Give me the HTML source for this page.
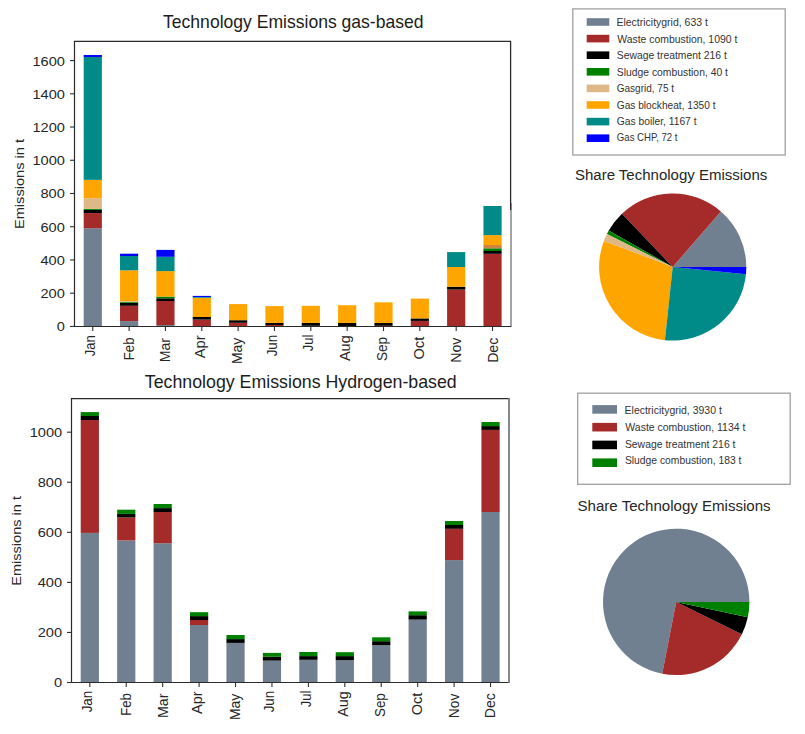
<!DOCTYPE html>
<html><head><meta charset="utf-8"><style>
html,body{margin:0;padding:0;background:#fff;width:805px;height:734px;overflow:hidden}
text{font-family:"Liberation Sans", sans-serif}
</style></head><body>
<svg width="805" height="734" viewBox="0 0 805 734" style="display:block">
<rect width="805" height="734" fill="#ffffff"/>
<rect x="83.685" y="228.2" width="18.171" height="98.2" fill="#708090"/>
<rect x="83.685" y="213.1" width="18.171" height="15.1" fill="#a52a2a"/>
<rect x="83.685" y="209.9" width="18.171" height="3.2" fill="#000000"/>
<rect x="83.685" y="208.9" width="18.171" height="1" fill="#008000"/>
<rect x="83.685" y="198.2" width="18.171" height="10.7" fill="#deb887"/>
<rect x="83.685" y="179.85" width="18.171" height="18.35" fill="#ffa500"/>
<rect x="83.685" y="57" width="18.171" height="122.85" fill="#008a88"/>
<rect x="83.685" y="55" width="18.171" height="2" fill="#0000ff"/>
<rect x="120.027" y="321.1" width="18.171" height="5.3" fill="#708090"/>
<rect x="120.027" y="305.8" width="18.171" height="15.3" fill="#a52a2a"/>
<rect x="120.027" y="302.7" width="18.171" height="3.1" fill="#000000"/>
<rect x="120.027" y="301.8" width="18.171" height="0.9" fill="#008000"/>
<rect x="120.027" y="301.2" width="18.171" height="0.6" fill="#deb887"/>
<rect x="120.027" y="270.3" width="18.171" height="30.9" fill="#ffa500"/>
<rect x="120.027" y="256" width="18.171" height="14.3" fill="#008a88"/>
<rect x="120.027" y="253.7" width="18.171" height="2.3" fill="#0000ff"/>
<rect x="156.369" y="325" width="18.171" height="1.4" fill="#708090"/>
<rect x="156.369" y="301" width="18.171" height="24" fill="#a52a2a"/>
<rect x="156.369" y="298.3" width="18.171" height="2.7" fill="#000000"/>
<rect x="156.369" y="296.6" width="18.171" height="1.7" fill="#008000"/>
<rect x="156.369" y="271.1" width="18.171" height="25.5" fill="#ffa500"/>
<rect x="156.369" y="256.8" width="18.171" height="14.3" fill="#008a88"/>
<rect x="156.369" y="249.9" width="18.171" height="6.9" fill="#0000ff"/>
<rect x="192.71" y="319.6" width="18.171" height="6.8" fill="#a52a2a"/>
<rect x="192.71" y="317" width="18.171" height="2.6" fill="#000000"/>
<rect x="192.71" y="297.8" width="18.171" height="19.2" fill="#ffa500"/>
<rect x="192.71" y="297" width="18.171" height="0.8" fill="#008a88"/>
<rect x="192.71" y="295.9" width="18.171" height="1.1" fill="#0000ff"/>
<rect x="229.052" y="322.8" width="18.171" height="3.6" fill="#a52a2a"/>
<rect x="229.052" y="320.2" width="18.171" height="2.6" fill="#000000"/>
<rect x="229.052" y="304.1" width="18.171" height="16.1" fill="#ffa500"/>
<rect x="265.394" y="325" width="18.171" height="1.4" fill="#a52a2a"/>
<rect x="265.394" y="322.9" width="18.171" height="2.1" fill="#000000"/>
<rect x="265.394" y="306.1" width="18.171" height="16.8" fill="#ffa500"/>
<rect x="301.735" y="325.8" width="18.171" height="0.6" fill="#a52a2a"/>
<rect x="301.735" y="322.9" width="18.171" height="2.9" fill="#000000"/>
<rect x="301.735" y="305.8" width="18.171" height="17.1" fill="#ffa500"/>
<rect x="338.077" y="323" width="18.171" height="3.4" fill="#000000"/>
<rect x="338.077" y="305.2" width="18.171" height="17.8" fill="#ffa500"/>
<rect x="374.419" y="325.8" width="18.171" height="0.6" fill="#a52a2a"/>
<rect x="374.419" y="323" width="18.171" height="2.8" fill="#000000"/>
<rect x="374.419" y="302.3" width="18.171" height="20.7" fill="#ffa500"/>
<rect x="410.76" y="320.9" width="18.171" height="5.5" fill="#a52a2a"/>
<rect x="410.76" y="318.4" width="18.171" height="2.5" fill="#000000"/>
<rect x="410.76" y="298.6" width="18.171" height="19.8" fill="#ffa500"/>
<rect x="447.102" y="289.6" width="18.171" height="36.8" fill="#a52a2a"/>
<rect x="447.102" y="286.7" width="18.171" height="2.9" fill="#000000"/>
<rect x="447.102" y="267" width="18.171" height="19.7" fill="#ffa500"/>
<rect x="447.102" y="252.1" width="18.171" height="14.9" fill="#008a88"/>
<rect x="483.444" y="253.8" width="18.171" height="72.6" fill="#a52a2a"/>
<rect x="483.444" y="251" width="18.171" height="2.8" fill="#000000"/>
<rect x="483.444" y="248.3" width="18.171" height="2.7" fill="#008000"/>
<rect x="483.444" y="245" width="18.171" height="3.3" fill="#cd853f"/>
<rect x="483.444" y="235.1" width="18.171" height="9.9" fill="#ffa500"/>
<rect x="483.444" y="206" width="18.171" height="29.1" fill="#008a88"/>
<line x1="74.5" y1="40.9" x2="74.5" y2="327" stroke="#2a2a2a" stroke-width="1.2"/>
<line x1="73.9" y1="41.4" x2="511" y2="41.4" stroke="#2a2a2a" stroke-width="1.2"/>
<line x1="73.9" y1="326.5" x2="511.5" y2="326.5" stroke="#2a2a2a" stroke-width="1.2"/>
<line x1="511" y1="203" x2="511" y2="326" stroke="#9a9a9a" stroke-width="1.8"/>
<line x1="510.6" y1="40.9" x2="510.6" y2="209.9" stroke="#2a2a2a" stroke-width="1.3"/>
<line x1="70" y1="326.4" x2="74.6" y2="326.4" stroke="#303030" stroke-width="1.1"/>
<line x1="70" y1="293.172" x2="74.6" y2="293.172" stroke="#303030" stroke-width="1.1"/>
<line x1="70" y1="259.944" x2="74.6" y2="259.944" stroke="#303030" stroke-width="1.1"/>
<line x1="70" y1="226.716" x2="74.6" y2="226.716" stroke="#303030" stroke-width="1.1"/>
<line x1="70" y1="193.488" x2="74.6" y2="193.488" stroke="#303030" stroke-width="1.1"/>
<line x1="70" y1="160.26" x2="74.6" y2="160.26" stroke="#303030" stroke-width="1.1"/>
<line x1="70" y1="127.032" x2="74.6" y2="127.032" stroke="#303030" stroke-width="1.1"/>
<line x1="70" y1="93.804" x2="74.6" y2="93.804" stroke="#303030" stroke-width="1.1"/>
<line x1="70" y1="60.576" x2="74.6" y2="60.576" stroke="#303030" stroke-width="1.1"/>
<line x1="92.771" y1="326.4" x2="92.771" y2="331" stroke="#303030" stroke-width="1.1"/>
<line x1="129.113" y1="326.4" x2="129.113" y2="331" stroke="#303030" stroke-width="1.1"/>
<line x1="165.454" y1="326.4" x2="165.454" y2="331" stroke="#303030" stroke-width="1.1"/>
<line x1="201.796" y1="326.4" x2="201.796" y2="331" stroke="#303030" stroke-width="1.1"/>
<line x1="238.138" y1="326.4" x2="238.138" y2="331" stroke="#303030" stroke-width="1.1"/>
<line x1="274.479" y1="326.4" x2="274.479" y2="331" stroke="#303030" stroke-width="1.1"/>
<line x1="310.821" y1="326.4" x2="310.821" y2="331" stroke="#303030" stroke-width="1.1"/>
<line x1="347.163" y1="326.4" x2="347.163" y2="331" stroke="#303030" stroke-width="1.1"/>
<line x1="383.504" y1="326.4" x2="383.504" y2="331" stroke="#303030" stroke-width="1.1"/>
<line x1="419.846" y1="326.4" x2="419.846" y2="331" stroke="#303030" stroke-width="1.1"/>
<line x1="456.188" y1="326.4" x2="456.188" y2="331" stroke="#303030" stroke-width="1.1"/>
<line x1="492.529" y1="326.4" x2="492.529" y2="331" stroke="#303030" stroke-width="1.1"/>
<rect x="80.707" y="532.9" width="18.215" height="149.6" fill="#708090"/>
<rect x="80.707" y="420" width="18.215" height="112.9" fill="#a52a2a"/>
<rect x="80.707" y="416" width="18.215" height="4" fill="#000000"/>
<rect x="80.707" y="412.1" width="18.215" height="3.9" fill="#008000"/>
<rect x="117.136" y="540.4" width="18.215" height="142.1" fill="#708090"/>
<rect x="117.136" y="517.4" width="18.215" height="23" fill="#a52a2a"/>
<rect x="117.136" y="513.9" width="18.215" height="3.5" fill="#000000"/>
<rect x="117.136" y="509.7" width="18.215" height="4.2" fill="#008000"/>
<rect x="153.566" y="543.2" width="18.215" height="139.3" fill="#708090"/>
<rect x="153.566" y="512" width="18.215" height="31.2" fill="#a52a2a"/>
<rect x="153.566" y="508.1" width="18.215" height="3.9" fill="#000000"/>
<rect x="153.566" y="504" width="18.215" height="4.1" fill="#008000"/>
<rect x="189.995" y="625" width="18.215" height="57.5" fill="#708090"/>
<rect x="189.995" y="620" width="18.215" height="5" fill="#a52a2a"/>
<rect x="189.995" y="616.1" width="18.215" height="3.9" fill="#000000"/>
<rect x="189.995" y="612.2" width="18.215" height="3.9" fill="#008000"/>
<rect x="226.424" y="642.9" width="18.215" height="39.6" fill="#708090"/>
<rect x="226.424" y="639.1" width="18.215" height="3.8" fill="#000000"/>
<rect x="226.424" y="635" width="18.215" height="4.1" fill="#008000"/>
<rect x="262.853" y="660.6" width="18.215" height="21.9" fill="#708090"/>
<rect x="262.853" y="656.8" width="18.215" height="3.8" fill="#000000"/>
<rect x="262.853" y="652.9" width="18.215" height="3.9" fill="#008000"/>
<rect x="299.282" y="659.8" width="18.215" height="22.7" fill="#708090"/>
<rect x="299.282" y="656.1" width="18.215" height="3.7" fill="#000000"/>
<rect x="299.282" y="652" width="18.215" height="4.1" fill="#008000"/>
<rect x="335.711" y="660.2" width="18.215" height="22.3" fill="#708090"/>
<rect x="335.711" y="656.1" width="18.215" height="4.1" fill="#000000"/>
<rect x="335.711" y="652.2" width="18.215" height="3.9" fill="#008000"/>
<rect x="372.141" y="645.1" width="18.215" height="37.4" fill="#708090"/>
<rect x="372.141" y="641.2" width="18.215" height="3.9" fill="#000000"/>
<rect x="372.141" y="637.3" width="18.215" height="3.9" fill="#008000"/>
<rect x="408.57" y="619.6" width="18.215" height="62.9" fill="#708090"/>
<rect x="408.57" y="615.2" width="18.215" height="4.4" fill="#000000"/>
<rect x="408.57" y="611.4" width="18.215" height="3.8" fill="#008000"/>
<rect x="444.999" y="560.1" width="18.215" height="122.4" fill="#708090"/>
<rect x="444.999" y="528.8" width="18.215" height="31.3" fill="#a52a2a"/>
<rect x="444.999" y="525" width="18.215" height="3.8" fill="#000000"/>
<rect x="444.999" y="521" width="18.215" height="4" fill="#008000"/>
<rect x="481.428" y="512" width="18.215" height="170.5" fill="#708090"/>
<rect x="481.428" y="429.9" width="18.215" height="82.1" fill="#a52a2a"/>
<rect x="481.428" y="426.1" width="18.215" height="3.8" fill="#000000"/>
<rect x="481.428" y="422" width="18.215" height="4.1" fill="#008000"/>
<line x1="71.5" y1="398" x2="71.5" y2="683" stroke="#2a2a2a" stroke-width="1.2"/>
<line x1="70.9" y1="398.6" x2="509.5" y2="398.6" stroke="#2a2a2a" stroke-width="1.2"/>
<line x1="70.9" y1="682.5" x2="509.4" y2="682.5" stroke="#2a2a2a" stroke-width="1.2"/>
<line x1="509" y1="398" x2="509" y2="683" stroke="#7a7a7a" stroke-width="1.8"/>
<line x1="67" y1="682.5" x2="71.6" y2="682.5" stroke="#303030" stroke-width="1.1"/>
<line x1="67" y1="632.44" x2="71.6" y2="632.44" stroke="#303030" stroke-width="1.1"/>
<line x1="67" y1="582.38" x2="71.6" y2="582.38" stroke="#303030" stroke-width="1.1"/>
<line x1="67" y1="532.32" x2="71.6" y2="532.32" stroke="#303030" stroke-width="1.1"/>
<line x1="67" y1="482.26" x2="71.6" y2="482.26" stroke="#303030" stroke-width="1.1"/>
<line x1="67" y1="432.2" x2="71.6" y2="432.2" stroke="#303030" stroke-width="1.1"/>
<line x1="89.815" y1="682.5" x2="89.815" y2="687.1" stroke="#303030" stroke-width="1.1"/>
<line x1="126.244" y1="682.5" x2="126.244" y2="687.1" stroke="#303030" stroke-width="1.1"/>
<line x1="162.673" y1="682.5" x2="162.673" y2="687.1" stroke="#303030" stroke-width="1.1"/>
<line x1="199.102" y1="682.5" x2="199.102" y2="687.1" stroke="#303030" stroke-width="1.1"/>
<line x1="235.531" y1="682.5" x2="235.531" y2="687.1" stroke="#303030" stroke-width="1.1"/>
<line x1="271.96" y1="682.5" x2="271.96" y2="687.1" stroke="#303030" stroke-width="1.1"/>
<line x1="308.39" y1="682.5" x2="308.39" y2="687.1" stroke="#303030" stroke-width="1.1"/>
<line x1="344.819" y1="682.5" x2="344.819" y2="687.1" stroke="#303030" stroke-width="1.1"/>
<line x1="381.248" y1="682.5" x2="381.248" y2="687.1" stroke="#303030" stroke-width="1.1"/>
<line x1="417.677" y1="682.5" x2="417.677" y2="687.1" stroke="#303030" stroke-width="1.1"/>
<line x1="454.106" y1="682.5" x2="454.106" y2="687.1" stroke="#303030" stroke-width="1.1"/>
<line x1="490.535" y1="682.5" x2="490.535" y2="687.1" stroke="#303030" stroke-width="1.1"/>
<rect x="572.8" y="8.9" width="212.4" height="146.1" fill="none" stroke="#a0a0a0" stroke-width="1.3"/>
<rect x="586.7" y="18.2" width="22.6" height="7.6" fill="#708090"/>
<rect x="586.7" y="34.8" width="22.6" height="7.6" fill="#a52a2a"/>
<rect x="586.7" y="51.4" width="22.6" height="7.6" fill="#000000"/>
<rect x="586.7" y="68" width="22.6" height="7.6" fill="#008000"/>
<rect x="586.7" y="84.6" width="22.6" height="7.6" fill="#deb887"/>
<rect x="586.7" y="101.2" width="22.6" height="7.6" fill="#ffa500"/>
<rect x="586.7" y="117.8" width="22.6" height="7.6" fill="#008a88"/>
<rect x="586.7" y="134.4" width="22.6" height="7.6" fill="#0000ff"/>
<rect x="577.7" y="393.2" width="212.5" height="91.1" fill="none" stroke="#a0a0a0" stroke-width="1.3"/>
<rect x="592.3" y="405.1" width="24.7" height="8.6" fill="#708090"/>
<rect x="592.3" y="422.87" width="24.7" height="8.6" fill="#a52a2a"/>
<rect x="592.3" y="440.64" width="24.7" height="8.6" fill="#000000"/>
<rect x="592.3" y="458.41" width="24.7" height="8.6" fill="#008000"/>
<path d="M672.7,267 L746.3,267 A73.6,73.6 0 0 0 720.908,211.386 Z" fill="#708090"/>
<path d="M672.7,267 L720.908,211.386 A73.6,73.6 0 0 0 621.949,213.696 Z" fill="#a52a2a"/>
<path d="M672.7,267 L621.949,213.696 A73.6,73.6 0 0 0 608.742,230.582 Z" fill="#000000"/>
<path d="M672.7,267 L608.742,230.582 A73.6,73.6 0 0 0 606.865,234.095 Z" fill="#008000"/>
<path d="M672.7,267 L606.865,234.095 A73.6,73.6 0 0 0 603.87,240.935 Z" fill="#deb887"/>
<path d="M672.7,267 L603.87,240.935 A73.6,73.6 0 0 0 664.921,340.188 Z" fill="#ffa500"/>
<path d="M672.7,267 L664.921,340.188 A73.6,73.6 0 0 0 745.951,274.16 Z" fill="#008a88"/>
<path d="M672.7,267 L745.951,274.16 A73.6,73.6 0 0 0 746.3,267 Z" fill="#0000ff"/>
<path d="M676.2,601.9 L749.4,601.9 A73.2,73.2 0 1 0 662.206,673.75 Z" fill="#708090"/>
<path d="M676.2,601.9 L662.206,673.75 A73.2,73.2 0 0 0 741.827,634.325 Z" fill="#a52a2a"/>
<path d="M676.2,601.9 L741.827,634.325 A73.2,73.2 0 0 0 747.785,617.193 Z" fill="#000000"/>
<path d="M676.2,601.9 L747.785,617.193 A73.2,73.2 0 0 0 749.4,601.9 Z" fill="#008000"/>
<text transform="matrix(1.075,0,0,1,56.698,331.392)" font-size="13.6" fill="#262626">0</text>
<text transform="matrix(1.075,0,0,1,40.469,298.164)" font-size="13.6" fill="#262626">200</text>
<text transform="matrix(1.075,0,0,1,40.469,264.936)" font-size="13.6" fill="#262626">400</text>
<text transform="matrix(1.075,0,0,1,40.469,231.708)" font-size="13.6" fill="#262626">600</text>
<text transform="matrix(1.075,0,0,1,40.469,198.48)" font-size="13.6" fill="#262626">800</text>
<text transform="matrix(1.075,0,0,1,32.428,165.252)" font-size="13.6" fill="#262626">1000</text>
<text transform="matrix(1.075,0,0,1,32.428,132.024)" font-size="13.6" fill="#262626">1200</text>
<text transform="matrix(1.075,0,0,1,32.428,98.796)" font-size="13.6" fill="#262626">1400</text>
<text transform="matrix(1.075,0,0,1,32.428,65.568)" font-size="13.6" fill="#262626">1600</text>
<text transform="matrix(0,-0.94,1,0,94.9,356.161)" font-size="13.9" fill="#262626">Jan</text>
<text transform="matrix(0,-0.953,1,0,133.8,360.26)" font-size="13.9" fill="#262626">Feb</text>
<text transform="matrix(0,-1.015,1,0,170.3,362.229)" font-size="13.9" fill="#262626">Mar</text>
<text transform="matrix(0,-1.06,1,0,204.9,358.3)" font-size="13.9" fill="#262626">Apr</text>
<text transform="matrix(0,-1.002,1,0,242.4,364.014)" font-size="13.9" fill="#262626">May</text>
<text transform="matrix(0,-0.964,1,0,276.9,356.368)" font-size="13.9" fill="#262626">Jun</text>
<text transform="matrix(0,-0.937,1,0,313.1,351.361)" font-size="13.9" fill="#262626">Jul</text>
<text transform="matrix(0,-1.048,1,0,350.3,361.1)" font-size="13.9" fill="#262626">Aug</text>
<text transform="matrix(0,-0.975,1,0,387.2,361.078)" font-size="13.9" fill="#262626">Sep</text>
<text transform="matrix(0,-1.055,1,0,424.3,359.533)" font-size="13.9" fill="#262626">Oct</text>
<text transform="matrix(0,-1.022,1,0,461.1,362.836)" font-size="13.9" fill="#262626">Nov</text>
<text transform="matrix(0,-1.017,1,0,497.5,362.831)" font-size="13.9" fill="#262626">Dec</text>
<text transform="matrix(0,-1.099,1,0,23.9,229.07)" font-size="13.3" fill="#262626">Emissions in t</text>
<text transform="matrix(1.075,0,0,1,53.898,687.492)" font-size="13.6" fill="#262626">0</text>
<text transform="matrix(1.075,0,0,1,37.669,637.432)" font-size="13.6" fill="#262626">200</text>
<text transform="matrix(1.075,0,0,1,37.669,587.372)" font-size="13.6" fill="#262626">400</text>
<text transform="matrix(1.075,0,0,1,37.669,537.312)" font-size="13.6" fill="#262626">600</text>
<text transform="matrix(1.075,0,0,1,37.669,487.252)" font-size="13.6" fill="#262626">800</text>
<text transform="matrix(1.075,0,0,1,29.628,437.192)" font-size="13.6" fill="#262626">1000</text>
<text transform="matrix(0,-0.964,1,0,92.3,712.368)" font-size="13.9" fill="#262626">Jan</text>
<text transform="matrix(0,-0.949,1,0,131.1,715.855)" font-size="13.9" fill="#262626">Feb</text>
<text transform="matrix(0,-1.02,1,0,167.5,717.934)" font-size="13.9" fill="#262626">Mar</text>
<text transform="matrix(0,-1.044,1,0,202.3,713.95)" font-size="13.9" fill="#262626">Apr</text>
<text transform="matrix(0,-1.002,1,0,239.6,720.014)" font-size="13.9" fill="#262626">May</text>
<text transform="matrix(0,-0.964,1,0,274.1,712.368)" font-size="13.9" fill="#262626">Jun</text>
<text transform="matrix(0,-0.937,1,0,310.8,707.361)" font-size="13.9" fill="#262626">Jul</text>
<text transform="matrix(0,-1.035,1,0,348.1,716.8)" font-size="13.9" fill="#262626">Aug</text>
<text transform="matrix(0,-0.966,1,0,385.1,717.072)" font-size="13.9" fill="#262626">Sep</text>
<text transform="matrix(0,-1.046,1,0,421.8,715.327)" font-size="13.9" fill="#262626">Oct</text>
<text transform="matrix(0,-0.996,1,0,458.7,718.208)" font-size="13.9" fill="#262626">Nov</text>
<text transform="matrix(0,-1.008,1,0,495.4,718.221)" font-size="13.9" fill="#262626">Dec</text>
<text transform="matrix(0,-1.109,1,0,21,585.662)" font-size="13.1" fill="#262626">Emissions in t</text>
<text transform="matrix(1.004,0,0,1,163.049,28.1)" font-size="17.5" fill="#1c1c1c">Technology Emissions gas-based</text>
<text transform="matrix(1.015,0,0,1,144.845,387.9)" font-size="17.5" fill="#1c1c1c">Technology Emissions Hydrogen-based</text>
<text transform="matrix(1.008,0,0,1,574.949,180.2)" font-size="14.9" fill="#262626">Share Technology Emissions</text>
<text transform="matrix(1.012,0,0,1,577.546,510.8)" font-size="14.9" fill="#262626">Share Technology Emissions</text>
<text transform="matrix(1.008,0,0,1,616.461,26.3)" font-size="10.4" fill="#333333">Electricitygrid, 633 t</text>
<text transform="matrix(1.004,0,0,1,617.196,42.75)" font-size="10.4" fill="#333333">Waste combustion, 1090 t</text>
<text transform="matrix(0.998,0,0,1,616.781,59.2)" font-size="10.4" fill="#333333">Sewage treatment 216 t</text>
<text transform="matrix(0.997,0,0,1,616.782,75.65)" font-size="10.4" fill="#333333">Sludge combustion, 40 t</text>
<text transform="matrix(0.962,0,0,1,616.8,92.1)" font-size="10.4" fill="#333333">Gasgrid, 75 t</text>
<text transform="matrix(0.977,0,0,1,616.792,108.55)" font-size="10.4" fill="#333333">Gas blockheat, 1350 t</text>
<text transform="matrix(0.989,0,0,1,616.786,125)" font-size="10.4" fill="#333333">Gas boiler, 1167 t</text>
<text transform="matrix(0.925,0,0,1,616.819,141.45)" font-size="10.4" fill="#333333">Gas CHP, 72 t</text>
<text transform="matrix(1.008,0,0,1,624.562,414.4)" font-size="10.4" fill="#333333">Electricitygrid, 3930 t</text>
<text transform="matrix(1.01,0,0,1,625.295,430.95)" font-size="10.4" fill="#333333">Waste combustion, 1134 t</text>
<text transform="matrix(1.002,0,0,1,624.879,447.5)" font-size="10.4" fill="#333333">Sewage treatment 216 t</text>
<text transform="matrix(0.994,0,0,1,624.883,464.05)" font-size="10.4" fill="#333333">Sludge combustion, 183 t</text>
</svg>
</body></html>
